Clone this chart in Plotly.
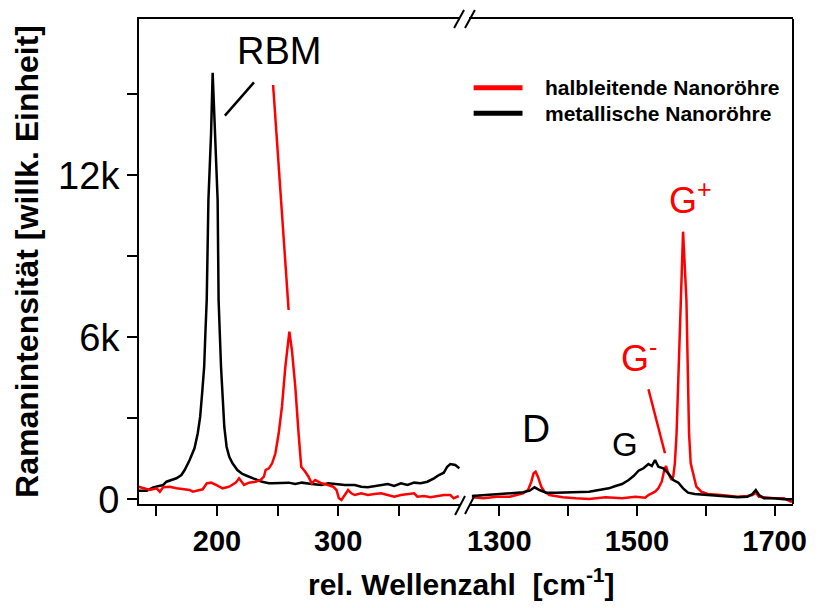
import plotly.graph_objects as go

# ---------------- data ----------------
# low-wavenumber segment (RBM region)
metal_low_x = [135, 142, 147.3, 152.8, 155.5, 158.3, 162.4, 166.5, 170.6, 173.3, 177.4, 181.4, 184.1, 186.1,
               187.7, 189.4, 190.4, 191.5, 192.9, 195.1, 196.4, 198.6, 200.5, 201.3, 203.3, 206, 207.9, 210.1,
               212.8, 216.8, 220.9, 225, 229.1, 233.2, 237.3, 242.8, 245.5, 259.1, 264.6, 270, 278.2, 286.3,
               291.8, 297.3, 305.5, 313.7, 319, 324.5, 330, 335.4, 340.9, 346.3, 351.8, 357.2, 362.7, 368.1,
               373.6, 379.1, 383.2, 387.2, 390, 392.6, 396.7, 400]
metal_low_y = [319, 319, 444, 493, 530, 652, 715, 778, 900, 1085, 1456, 1889, 2445, 3060, 3926, 4912, 6149,
               7382, 11086, 13556, 15801, 13556, 11086, 7382, 4912, 2689, 1948, 1578, 1333, 1085, 937, 863, 778,
               715, 652, 593, 593, 617, 567, 617, 567, 530, 593, 567, 530, 530, 467, 444, 493, 530, 567, 493,
               593, 530, 617, 593, 652, 778, 900, 985, 1207, 1307, 1270, 1148]

semi_low_x = [135.1, 139.2, 144.6, 150.1, 152.8, 155.5, 161, 166.5, 171.9, 177.4, 180, 182.8, 188.2, 191.5,
              195.1, 199.2, 204.6, 210.1, 215.5, 218.2, 222.3, 226.4, 231.9, 236, 238.7, 240.1, 242.8, 245.5,
              248.2, 250.9, 253.6, 256.4, 258.5, 259.7, 261.8, 264.6, 267.3, 269.5, 272.8, 275.5, 278.2, 281,
              283.6, 286.3, 289.1, 291.8, 295.9, 298.6, 300.6, 302.7, 305.5, 308.2, 310.9, 313.7, 319, 324.5,
              330, 335.4, 340.9, 346.3, 351.8, 357.2, 362.7, 365.4, 370.9, 376.3, 381.8, 387.2, 392.6, 395.4,
              399.5]
semi_low_y = [467, 407, 344, 407, 281, 444, 467, 407, 370, 344, 281, 319, 370, 593, 617, 530, 407, 467, 617,
              778, 530, 617, 652, 715, 837, 1085, 1148, 1333, 1704, 2445, 3430, 4912, 5900, 6208, 5530, 4171,
              2445, 1207, 1022, 837, 593, 715, 652, 593, 567, 530, 467, 344, 37, -26, 159, 344, 222, 159, 222,
              159, 196, 222, 159, 96, 159, 196, 222, 96, 122, 74, 122, 159, 159, 37, 122]

# high-wavenumber segment (D / G region)
metal_high_x = [1260.1, 1277, 1296.1, 1315.3, 1334.5, 1344, 1351.2, 1358.4, 1368.1, 1382.4, 1406.5, 1430.4,
                1444.7, 1459.1, 1468.8, 1478.4, 1487.9, 1495.1, 1502.3, 1509.5, 1516.7, 1521.6, 1526.3, 1531.1,
                1538.3, 1545.5, 1552.7, 1559.9, 1567.1, 1574.2, 1583.9, 1603, 1622.3, 1646.2, 1660.6, 1667.8,
                1672.7, 1677.4, 1684.6, 1699, 1713.4, 1725.3]
metal_high_y = [122, 159, 196, 222, 259, 319, 444, 344, 244, 244, 270, 281, 344, 407, 493, 567, 715, 863, 1059,
                1148, 1307, 1233, 1456, 1207, 1148, 963, 715, 622, 407, 244, 196, 159, 96, 74, 96, 196, 344, 159,
                37, 37, 0, 0]

semi_high_x = [1260.1, 1277, 1296.1, 1315.3, 1334.5, 1341.7, 1346.5, 1349.8, 1352.7, 1356.1, 1360.9, 1365.6,
               1372.8, 1392.1, 1411.2, 1430.4, 1454.4, 1478.4, 1497.6, 1511.9, 1516.7, 1526.3, 1531.1, 1536,
               1539.7, 1542.2, 1545.5, 1550.4, 1552.7, 1555.1, 1557.6, 1559.9, 1562.3, 1564.7, 1567, 1571.9,
               1575.7, 1578.1, 1586.3, 1593.5, 1603, 1622.3, 1646.2, 1660.6, 1667.8, 1672.7, 1677.4, 1684.6,
               1699, 1713.4, 1725.3]
semi_high_y = [74, 37, 96, 96, 222, 344, 652, 963, 1022, 837, 467, 281, 159, 74, 37, 15, 74, 37, 96, 60, 159,
               281, 407, 652, 1085, 1233, 963, 715, 837, 1333, 2445, 4297, 6149, 7382, 9912, 7382, 2445, 1333,
               467, 281, 196, 159, 96, 122, 159, 244, 96, 74, 37, 37, -100]

series_names = ["halbleitende Nanoröhre", "metallische Nanoröhre"]
series_colors = ["#ff0000", "#000000"]

low_ticks = [200, 300]
low_minor = [150, 250, 350]
high_ticks = [1300, 1500, 1700]
high_minor = [1400, 1600]
y_ticks = [0, 6000, 12000]
y_ticktext = ["0", "6k", "12k"]
y_minor = [3000, 9000, 15000]

FONT = "Liberation Sans, Arial, sans-serif"

fig = go.Figure()
fig.add_trace(go.Scatter(x=metal_low_x, y=metal_low_y, mode="lines", name=series_names[1],
                         line=dict(color=series_colors[1], width=2.5), xaxis="x", yaxis="y"))
fig.add_trace(go.Scatter(x=semi_low_x, y=semi_low_y, mode="lines", name=series_names[0],
                         line=dict(color=series_colors[0], width=2.5), xaxis="x", yaxis="y"))
fig.add_trace(go.Scatter(x=semi_high_x, y=semi_high_y, mode="lines", name=series_names[0],
                         line=dict(color=series_colors[0], width=2.5), xaxis="x2", yaxis="y"))
fig.add_trace(go.Scatter(x=metal_high_x, y=metal_high_y, mode="lines", name=series_names[1],
                         line=dict(color=series_colors[1], width=2.5), xaxis="x2", yaxis="y"))

xcommon = dict(ticks="outside", ticklen=10, tickwidth=2, tickcolor="black", showline=True, linewidth=2,
               linecolor="black", mirror=True, showgrid=False, zeroline=False, anchor="y",
               tickfont=dict(family=FONT, size=29, color="black", weight="bold"))

fig.update_layout(
    width=819, height=608,
    margin=dict(l=139, r=20, t=19, b=104),
    plot_bgcolor="white", paper_bgcolor="white",
    showlegend=False,
    font=dict(family=FONT, color="black"),
    xaxis=dict(domain=[0, 0.4909], range=[135.6, 400.6], tickvals=low_ticks,
               minor=dict(tickvals=low_minor, ticks="outside", ticklen=10, tickwidth=2, tickcolor="black"),
               **xcommon),
    xaxis2=dict(domain=[0.5045, 1], range=[1255.8, 1726.8], tickvals=high_ticks,
                minor=dict(tickvals=high_minor, ticks="outside", ticklen=10, tickwidth=2, tickcolor="black"),
                **xcommon),
    yaxis=dict(range=[-174, 17789], tickvals=y_ticks, ticktext=y_ticktext, ticks="outside", ticklen=10,
               tickwidth=2, tickcolor="black", showline=True, linewidth=2, linecolor="black",
               showgrid=False, zeroline=False,
               minor=dict(tickvals=y_minor, ticks="outside", ticklen=10, tickwidth=2, tickcolor="black"),
               tickfont=dict(family=FONT, size=38, color="black"),
               title=dict(text="Ramanintensität [willk. Einheit]", standoff=10,
                          font=dict(family=FONT, size=32, color="black", weight="bold"))),
)

shapes = []
# right border
shapes.append(dict(type="line", xref="paper", yref="paper", x0=1, x1=1, y0=0, y1=1,
                   line=dict(color="black", width=2)))
# axis break marks
for (x0, y0, x1, y1) in [(0.4833, -0.0227, 0.4985, 0.0165), (0.4985, -0.0206, 0.5136, 0.0186),
                         (0.4818, 0.9814, 0.4970, 1.0186), (0.4985, 0.9814, 0.5136, 1.0186)]:
    shapes.append(dict(type="line", xref="paper", yref="paper", x0=x0, y0=y0, x1=x1, y1=y1,
                       line=dict(color="black", width=2)))
# pointer lines
shapes.append(dict(type="line", xref="x", yref="y", x0=206.5, y0=14209, x1=230.5, y1=15443,
                   line=dict(color="black", width=2.5)))
shapes.append(dict(type="line", xref="x", yref="y", x0=246.3, y0=15345, x1=259.1, y1=7011,
                   line=dict(color="#ff0000", width=2.5)))
shapes.append(dict(type="line", xref="x2", yref="y", x0=1516.7, y0=4074, x1=1540.7, y1=1704,
                   line=dict(color="#ff0000", width=2.5)))
# legend bars
shapes.append(dict(type="line", xref="paper", yref="paper", x0=0.5117, x1=0.5864, y0=0.8584, y1=0.8584,
                   line=dict(color=series_colors[0], width=5)))
shapes.append(dict(type="line", xref="paper", yref="paper", x0=0.5117, x1=0.5864, y0=0.8056, y1=0.8056,
                   line=dict(color=series_colors[1], width=5)))
fig.update_layout(shapes=shapes)

ann = []
ann.append(dict(text="RBM", xref="x", yref="y", x=251.3, y=16605, showarrow=False,
                font=dict(family=FONT, size=38, color="black")))
ann.append(dict(text="D", xref="x2", yref="y", x=1353.7, y=2604, showarrow=False,
                font=dict(family=FONT, size=39, color="black")))
ann.append(dict(text="G", xref="x2", yref="y", x=1482.2, y=2048, showarrow=False,
                font=dict(family=FONT, size=33, color="black")))
ann.append(dict(text="G<sup>-</sup>", xref="x2", yref="y", x=1474, y=5300, xanchor="left", showarrow=False,
                font=dict(family=FONT, size=36, color="#ff0000")))
ann.append(dict(text="G<sup>+</sup>", xref="x2", yref="y", x=1543, y=11150, xanchor="left", showarrow=False,
                font=dict(family=FONT, size=36, color="#ff0000")))
ann.append(dict(text="rel. Wellenzahl\u00a0 [cm<sup>-1</sup>]", xref="paper", yref="paper", x=0.4924, y=-0.1608,
                xanchor="center", yanchor="middle", showarrow=False,
                font=dict(family=FONT, size=30, color="black", weight="bold")))
for i, yy in enumerate([0.8584, 0.8056]):
    ann.append(dict(text=series_names[i], xref="paper", yref="paper", x=0.6177, y=yy, xanchor="left",
                    yanchor="middle", showarrow=False,
                    font=dict(family=FONT, size=21, color="black", weight="bold")))
fig.update_layout(annotations=ann)

fig.write_html("out.html")
